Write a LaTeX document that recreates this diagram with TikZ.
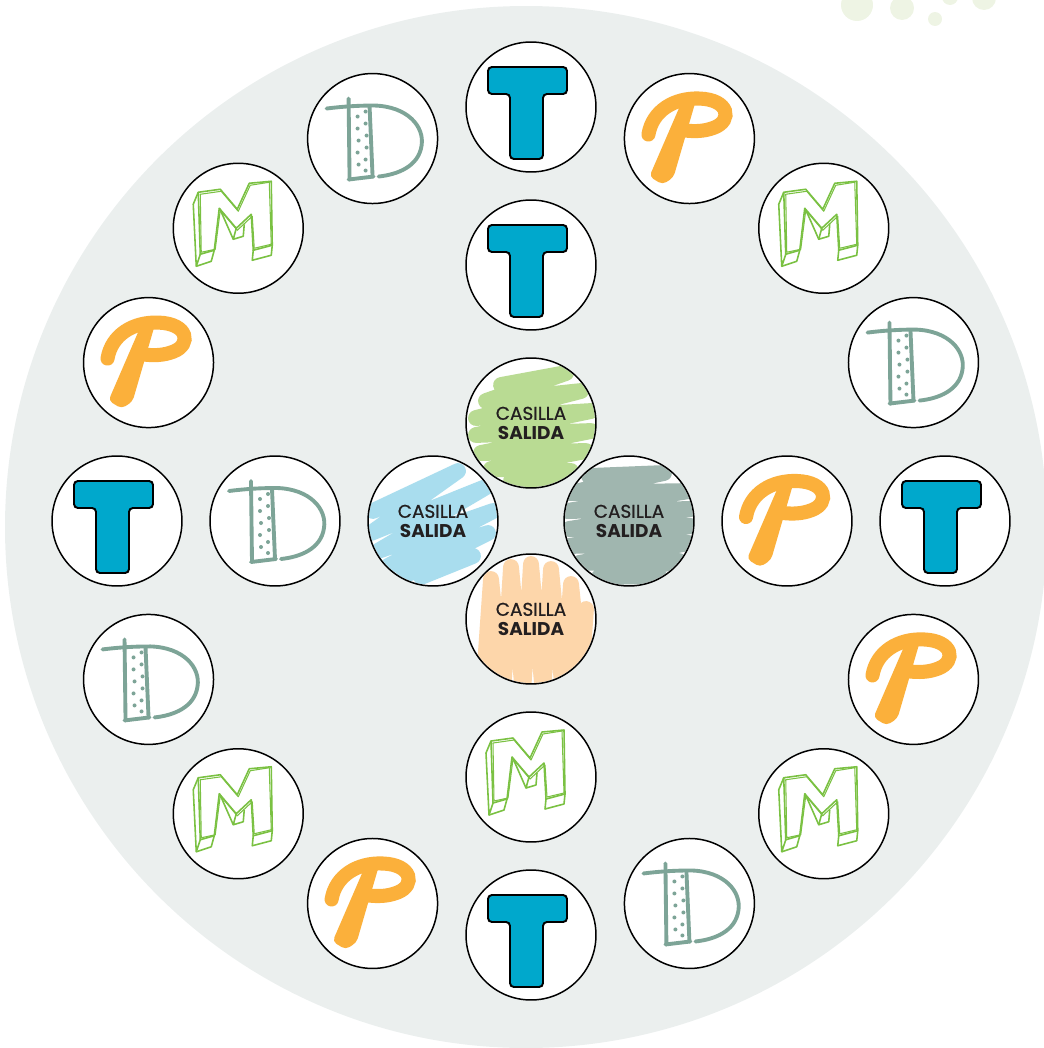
\documentclass[tikz,border=0pt]{standalone}
\usepackage{fontspec}
\newfontfamily\pop{Poppins}[FakeBold=0.8]
\newfontfamily\popb{Poppins Bold}
\definecolor{bggray}{HTML}{EBEFEE}
\definecolor{dotgreen}{HTML}{EEF4E4}
\definecolor{tblue}{HTML}{00A8CC}
\definecolor{porange}{HTML}{FBB03B}
\definecolor{dgreen}{HTML}{7DA497}
\definecolor{mgreen}{HTML}{7AC142}
\definecolor{sgreen}{HTML}{B9DB93}
\definecolor{sblue}{HTML}{A9DDEE}
\definecolor{sgray}{HTML}{A0B6AF}
\definecolor{sorange}{HTML}{FDD6AA}
\definecolor{txt}{HTML}{231F20}
\tikzset{
  cell/.style={circle, draw=black, line width=0.85pt, fill=white, minimum size=2.6cm, inner sep=0pt},
  startcell/.style={cell, fill=none, align=center, text=txt, font=\fontsize{10.5}{11}\selectfont},
  scrib/.style={line width=9pt, line cap=round, line join=round},
  glyphT/.pic={\draw[line width=1.1pt, fill=tblue, rounded corners=2.2pt] (-43,-40) -- (36,-40) -- (36,-13) -- (12,-13) -- (12,52) -- (-21,52) -- (-21,-13) -- (-43,-13) -- cycle;},
  glyphP/.pic={
    \fill[porange, rounded corners=2.5pt] (-8,-36) -- (7,-40) -- (-16,39) -- (-27,46) -- (-40,38) -- cycle;
    \draw[porange, line width=8pt, line cap=round] (-41,-4) .. controls (-37,-28) and (-15,-41) .. (10,-40) .. controls (40,-39) and (43,-18) .. (25,-11) .. controls (15,-7) and (5,-7) .. (-4,-8);
  },
  glyphD/.pic={
    \draw[dgreen, line width=2.2pt, line cap=round] (-46,-30) .. controls (-30,-32) and (-15,-33) .. (2,-33) .. controls (35,-32) and (52,-12) .. (49,7) .. controls (46,28) and (25,36) .. (6,38);
    \draw[dgreen, line width=2.2pt, line cap=round] (-24,-40) -- (-23,41);
    \draw[dgreen, line width=2.2pt, line cap=round] (-3,-32) -- (0,38);
    \draw[dgreen, line width=2.2pt, line cap=round] (-24,41) -- (1,38);
    \foreach \p in {(-15,-22),(-15,-10),(-14,2),(-15,14),(-14,26),(-7,-27),(-7,-15),(-6,-3),(-6,9),(-7,21),(-7,32)} \fill[dgreen] \p circle[radius=2];
  },
  glyphM/.pic={
    \draw[mgreen, line width=0.9pt, line join=round] (-40,-36) -- (-18,-39) -- (-1,-19) -- (11,-45) -- (33,-47) -- (34,17) -- (15,22) -- (13,-14) -- (-2,0) -- (-19,-20) -- (-24,22) -- (-38,26) -- cycle;
    \draw[mgreen, line width=0.6pt, line join=round] (-38,-34) -- (-17,-37) -- (0,-17) -- (12,-43) -- (31,-46) -- (33,16) -- (16,20) -- (14,-12) -- (-1,2) -- (-18,-18) -- (-23,21) -- (-37,24) -- cycle;
    \draw[mgreen, line width=0.9pt, line join=round] (-40,-36) -- (-45,-24) -- (-42,38) -- (-38,26);
    \draw[mgreen, line width=0.9pt, line join=round] (-42,38) -- (-27,33) -- (-24,22);
    \draw[mgreen, line width=0.9pt, line join=round] (-2,0) -- (-5,11) -- (5,8) -- (6,-4);
    \draw[mgreen, line width=0.9pt, line join=round] (15,22) -- (14,32) -- (33,27) -- (34,17);
    \draw[mgreen, line width=0.9pt] (-19,-20) -- (-16,-14) -- (-5,11);
  },
}
\begin{document}
\begin{tikzpicture}[x=0.02cm,y=-0.02cm]
\useasboundingbox (0,0) rectangle (1044,1048);
% background
\fill[bggray] (526,527) circle[radius=521];
\fill[dotgreen] (857,5) circle[radius=16];
\fill[dotgreen] (902,8) circle[radius=12];
\fill[dotgreen] (935,19) circle[radius=7];
\fill[dotgreen] (950,-3) circle[radius=8];
\fill[dotgreen] (984,-2) circle[radius=12];
% outer ring
\foreach \g [count=\i from 0] in {T,P,M,D,T,P,M,D,T,P,M,D,T,P,M,D} {
  \pgfmathsetmacro\ang{22.5*\i}
  \node[cell] (o\i) at ({531+414*sin(\ang)},{521-414*cos(\ang)}) {};
  \pic at (o\i) {glyph\g};
}
% inner ring
\node[cell] (iT) at (531,265) {};
\pic at (iT) {glyphT};
\node[cell] (iD) at (275,521) {};
\pic at (iD) {glyphD};
\node[cell] (iP) at (787,521) {};
\pic at (iP) {glyphP};
\node[cell] (iM) at (531,777) {};
\pic at (iM) {glyphM};
% start cells
% green
\fill[white] (531,423) circle[radius=65];
\begin{scope}
\clip (531,423) circle[radius=64];
\draw[sgreen, scrib, shift={(531,423)}] (-30,-38) -- (35,-50) -- (-45,-22) -- (50,-32) -- (-55,-5) -- (60,-12) -- (-55,12) -- (60,8) -- (-50,30) -- (55,28) -- (-40,46) -- (40,48) -- (-20,58) -- (20,58);
\end{scope}
\node[startcell] (sg) at (531,423) {{\pop CASILLA}\\{\popb SALIDA}};
% blue
\fill[white] (433,521) circle[radius=65];
\begin{scope}
\clip (433,521) circle[radius=64];
\draw[sblue, scrib, shift={(433,521)}] (-60,-10) -- (25,-50) -- (-62,12) -- (55,-35) -- (-55,30) -- (60,-10) -- (-45,45) -- (55,12) -- (-30,54) -- (40,35) -- (-12,56);
\end{scope}
\node[startcell] (sb) at (433,521) {{\pop CASILLA}\\{\popb SALIDA}};
% gray
\fill[white] (629,521) circle[radius=65];
\begin{scope}
\clip (629,521) circle[radius=64];
\draw[sgray, scrib, shift={(629,521)}] (-40,-45) -- (35,-48) -- (-60,-28) -- (60,-30) -- (-62,-10) -- (62,-12) -- (-60,8) -- (62,5) -- (-60,25) -- (60,22) -- (-50,42) -- (50,40) -- (-30,56) -- (30,55);
\end{scope}
\node[startcell] (sy) at (629,521) {{\pop CASILLA}\\{\popb SALIDA}};
% orange
\fill[white] (531,619) circle[radius=65];
\begin{scope}
\clip (531,619) circle[radius=64];
\draw[sorange, scrib, shift={(531,619)}] (-48,75) -- (-40,-40) -- (-28,75) -- (-20,-52) -- (-8,75) -- (0,-55) -- (12,75) -- (20,-50) -- (32,75) -- (40,-35) -- (50,60) -- (55,-10);
\end{scope}
\node[startcell] (so) at (531,619) {{\pop CASILLA}\\{\popb SALIDA}};
\end{tikzpicture}
\end{document}
